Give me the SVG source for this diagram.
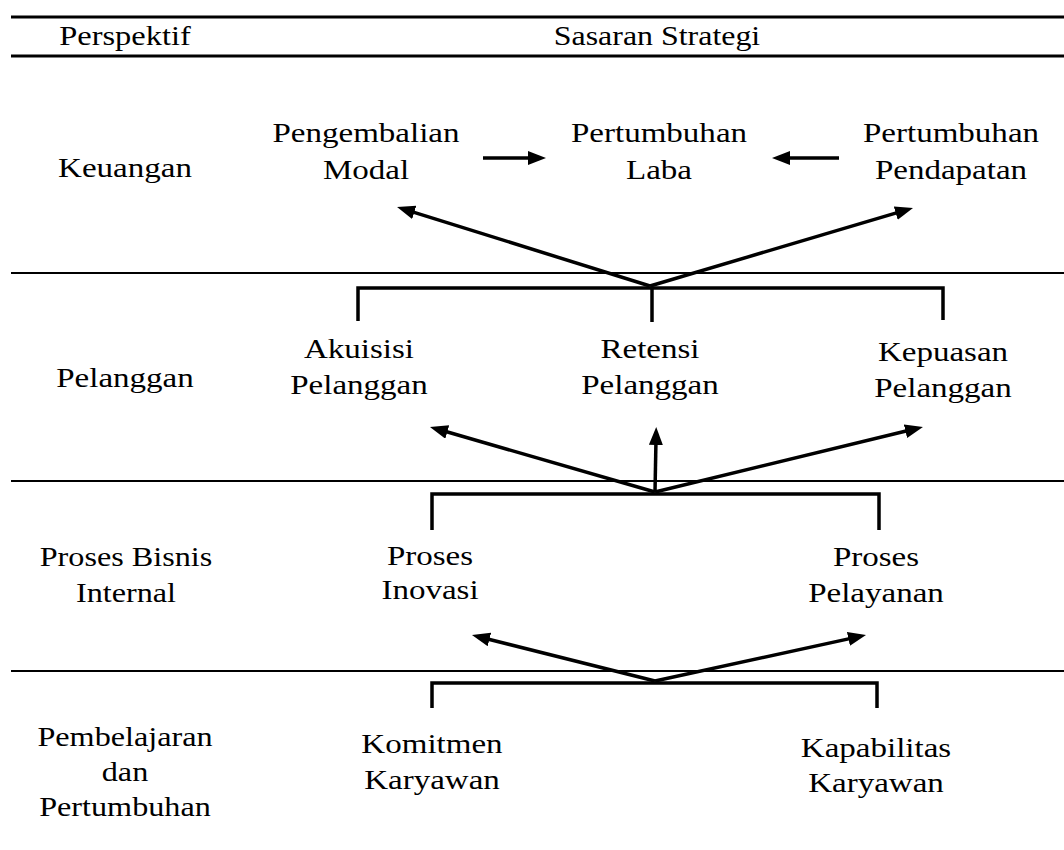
<svg xmlns="http://www.w3.org/2000/svg" width="1064" height="850" viewBox="0 0 1064 850">
<defs>
<style>
.t{font-family:"Liberation Serif","Times New Roman",serif;font-size:28px;fill:#000;text-anchor:middle}
.sep{stroke:#000;stroke-width:2.2;fill:none}
.sepT{stroke:#000;stroke-width:3;fill:none}
.br{stroke:#000;stroke-width:3.5;fill:none;stroke-linejoin:miter}
.ar{stroke:#000;stroke-width:3.5;fill:none;marker-end:url(#ah)}
</style>
<marker id="ah" markerUnits="userSpaceOnUse" markerWidth="20" markerHeight="16" refX="6" refY="7" orient="auto">
<path d="M0,0 L18,7 L0,14 z" fill="#000"/>
</marker>
</defs>
<rect width="1064" height="850" fill="#fff"/>
<g id="grid">
<line class="sepT" x1="11" y1="17" x2="1064" y2="17"/>
<line class="sepT" x1="11" y1="56" x2="1064" y2="56"/>
<line class="sep" x1="11" y1="273" x2="1064" y2="273"/>
<line class="sep" x1="11" y1="481" x2="1064" y2="481"/>
<line class="sep" x1="11" y1="671" x2="1064" y2="671"/>
</g>
<g id="header">
<text class="t" transform="translate(125,45) scale(1.16,1)">Perspektif</text>
<text class="t" transform="translate(657,45) scale(1.14,1)">Sasaran Strategi</text>
</g>
<g id="perspectives">
<text class="t" transform="translate(125,177) scale(1.18,1)">Keuangan</text>
<text class="t" transform="translate(125,387) scale(1.18,1)">Pelanggan</text>
<g transform="translate(126,0) scale(1.15,1)"><text class="t" x="0" y="566">Proses Bisnis</text><text class="t" x="0" y="602">Internal</text></g>
<g transform="translate(125,0) scale(1.15,1)"><text class="t" x="0" y="746">Pembelajaran</text><text class="t" x="0" y="781">dan</text><text class="t" x="0" y="816">Pertumbuhan</text></g>
</g>
<g id="pengembalian-modal" transform="translate(366,0) scale(1.18,1)"><text class="t" x="0" y="142">Pengembalian</text><text class="t" x="0" y="179">Modal</text></g>
<g id="pertumbuhan-laba" transform="translate(659,0) scale(1.18,1)"><text class="t" x="0" y="142">Pertumbuhan</text><text class="t" x="0" y="179">Laba</text></g>
<g id="pertumbuhan-pendapatan" transform="translate(951,0) scale(1.18,1)"><text class="t" x="0" y="142">Pertumbuhan</text><text class="t" x="0" y="179">Pendapatan</text></g>
<g id="akuisisi-pelanggan" transform="translate(359,0) scale(1.18,1)"><text class="t" x="0" y="358">Akuisisi</text><text class="t" x="0" y="394">Pelanggan</text></g>
<g id="retensi-pelanggan" transform="translate(650,0) scale(1.18,1)"><text class="t" x="0" y="358">Retensi</text><text class="t" x="0" y="394">Pelanggan</text></g>
<g id="kepuasan-pelanggan" transform="translate(943,0) scale(1.18,1)"><text class="t" x="0" y="361">Kepuasan</text><text class="t" x="0" y="397">Pelanggan</text></g>
<g id="proses-inovasi" transform="translate(430,0) scale(1.18,1)"><text class="t" x="0" y="565">Proses</text><text class="t" x="0" y="599">Inovasi</text></g>
<g id="proses-pelayanan" transform="translate(876,0) scale(1.18,1)"><text class="t" x="0" y="566">Proses</text><text class="t" x="0" y="602">Pelayanan</text></g>
<g id="komitmen-karyawan" transform="translate(432,0) scale(1.18,1)"><text class="t" x="0" y="753">Komitmen</text><text class="t" x="0" y="789">Karyawan</text></g>
<g id="kapabilitas-karyawan" transform="translate(876,0) scale(1.18,1)"><text class="t" x="0" y="757">Kapabilitas</text><text class="t" x="0" y="792">Karyawan</text></g>
<g id="connectors">
<polyline class="br" points="358,321 358,288 943,288 943,320"/>
<line class="br" x1="652" y1="288" x2="652" y2="322"/>
<polyline class="br" points="432,530 432,494 879,494 879,530"/>
<polyline class="br" points="432,708 432,683 877,683 877,708"/>
<line class="ar" x1="483" y1="158" x2="534" y2="158"/>
<line class="ar" x1="839" y1="158" x2="784" y2="158"/>
<line class="ar" x1="650" y1="286" x2="408.5" y2="210.6"/>
<line class="ar" x1="650" y1="286" x2="901.5" y2="211.4"/>
<line class="ar" x1="655" y1="492" x2="441.5" y2="430.3"/>
<line class="ar" x1="655" y1="492" x2="656" y2="439"/>
<line class="ar" x1="655" y1="492" x2="911.3" y2="429.8"/>
<line class="ar" x1="655" y1="681" x2="483.6" y2="638"/>
<line class="ar" x1="655" y1="681" x2="854.3" y2="637.6"/>
</g>
</svg>
